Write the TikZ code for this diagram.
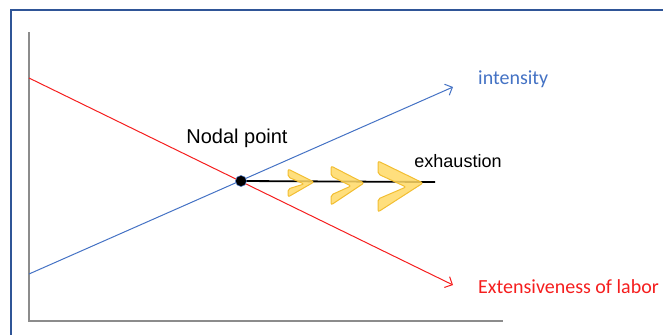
\documentclass[tikz,border=0pt]{standalone}
\usepackage{fontspec}
\usepackage{tikz}
\usetikzlibrary{arrows.meta,positioning}
\newfontfamily\calibrifont{Carlito}
\newfontfamily\arialfont{Liberation Sans}
\definecolor{frameblue}{RGB}{47,85,151}
\definecolor{lineblue}{RGB}{68,114,196}
\definecolor{linered}{RGB}{245,30,30}
\definecolor{axisgray}{RGB}{140,140,140}
\definecolor{chevfill}{RGB}{255,217,102}
\definecolor{chevdraw}{RGB}{242,190,50}
\tikzstyle{axisline}=[draw=axisgray, line width=1.4pt]
\tikzstyle{curveline}=[-{Straight Barb[length=6pt,width=12pt]}, line width=1pt]
\tikzstyle{curvelabel}=[anchor=west, inner sep=0pt, font=\calibrifont\fontsize{20}{24}\selectfont]
\tikzstyle{plainlabel}=[inner sep=0pt, font=\arialfont\fontsize{20}{24}\selectfont]
\tikzstyle{nodaldot}=[circle, fill=black, draw=lineblue, line width=0.5pt, minimum size=11pt, inner sep=0pt]
\tikzstyle{chevron}=[fill=chevfill, fill opacity=0.85, draw=chevdraw, line width=1pt, rounded corners=2pt]
\begin{document}
\begin{tikzpicture}[x=1pt, y=-1pt]
    \useasboundingbox (0,0) rectangle (663,335);

    % frame
    \draw[frameblue, line width=1.5pt] (663,10) -- (11,10) -- (11,335);

    % axes
    \coordinate (origin) at (29,321);
    \coordinate (ytop) at (29,32);
    \coordinate (xend) at (503,321);
    \draw[axisline] (ytop) -- (origin) -- (xend);

    % the two lines
    \coordinate (int0) at (29,274);
    \coordinate (int1) at (453,87);
    \coordinate (ext0) at (29,78);
    \coordinate (ext1) at (453,285);
    \draw[curveline, lineblue] (int0) -- (int1);
    \draw[curveline, linered] (ext0) -- (ext1);

    \node[curvelabel, text=lineblue] (intensity) at (478,79) {intensity};
    \node[curvelabel, text=linered] (extensive) at (478,287) {Extensiveness of labor};

    % exhaustion line
    \coordinate (exhend) at (435,182);
    \draw[black, line width=1.8pt] (241,181) -- (exhend);

    % chevrons
    \foreach \x/\t/\b/\tx/\ty/\a/\w/\d in {288/169/197/314/182/8/10/2,
                                            331/166/205/364/183/10/13/3,
                                            378/161/212/423/183/13/17/4}{
      \draw[chevron] (\x,\t) -- (\tx,\ty) -- (\x,\b) -- (\x,\b-\a)
        -- (\tx-\w,\ty+\d) -- (\x,\t+\a) -- cycle;
    }

    \node[nodaldot] (nodal) at (241,181) {};
    \node[plainlabel] (nodallabel) at (237,138) {Nodal point};
    \node[plainlabel, font=\arialfont\fontsize{18}{22}\selectfont] (exhaustion) at (458,161) {exhaustion};
\end{tikzpicture}
\end{document}
